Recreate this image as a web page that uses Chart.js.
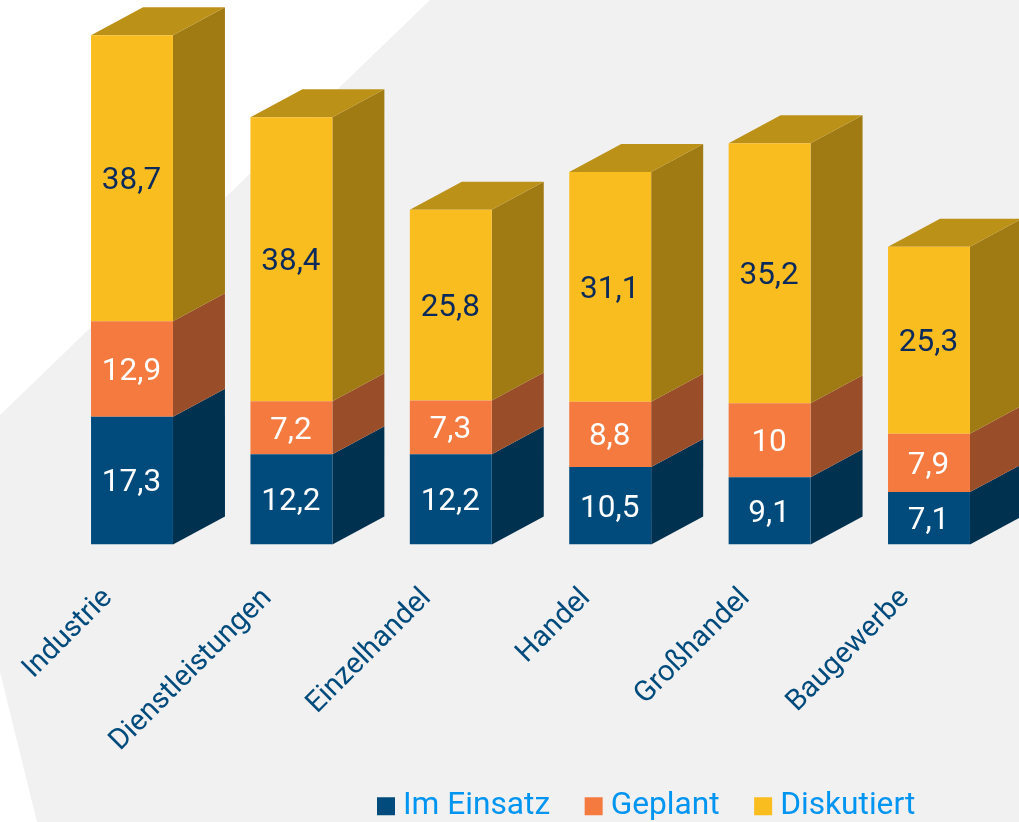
<!DOCTYPE html>
<html>
<head>
<meta charset="utf-8">
<script src="https://cdn.jsdelivr.net/npm/chart.js@4"></script>
<style>
  html, body { margin: 0; padding: 0; background: #fff; }
  #wrap { width: 1019px; height: 822px; position: relative; overflow: hidden; }
</style>
</head>
<body>
<div id="wrap"><canvas id="myChart" width="1019" height="822"></canvas></div>
<script>
var categories = ['Industrie', 'Dienstleistungen', 'Einzelhandel', 'Handel', 'Großhandel', 'Baugewerbe'];
var seriesNames = ['Im Einsatz', 'Geplant', 'Diskutiert'];
var imEinsatz = [17.3, 12.2, 12.2, 10.5, 9.1, 7.1];
var geplant = [12.9, 7.2, 7.3, 8.8, 10, 7.9];
var diskutiert = [38.7, 38.4, 25.8, 31.1, 35.2, 25.3];

var frontColors = ['#004b7c', '#f57a3f', '#fabd20'];
var sideColors = ['#00314f', '#994d28', '#a07a12'];
var labelColors = ['#ffffff', '#ffffff', '#0b2a5c'];
var topColor = '#bc9118';
var depthX = 52, depthY = 28;

var backgroundShape = {
    id: 'backgroundShape',
    beforeDraw: function(chart) {
        var c = chart.ctx;
        c.save();
        c.fillStyle = '#f1f1f1';
        c.beginPath();
        c.moveTo(430, 0);
        c.lineTo(1019, 0);
        c.lineTo(1019, 822);
        c.lineTo(37, 822);
        c.lineTo(0, 672);
        c.lineTo(0, 415);
        c.closePath();
        c.fill();
        c.restore();
    }
};

function face(c, color, pts) {
    c.fillStyle = color;
    c.beginPath();
    c.moveTo(pts[0], pts[1]);
    for (var i = 2; i < pts.length; i += 2) c.lineTo(pts[i], pts[i + 1]);
    c.closePath();
    c.fill();
}

// side and top faces of the blocks, taken from the bar elements
var blockFaces = {
    id: 'blockFaces',
    beforeDatasetsDraw: function(chart) {
        var c = chart.ctx;
        c.save();
        chart.data.datasets.forEach(function(ds, d) {
            chart.getDatasetMeta(d).data.forEach(function(bar) {
                var r = bar.x + bar.width / 2, l = bar.x - bar.width / 2;
                face(c, sideColors[d], [r, bar.y, r + depthX, bar.y - depthY, r + depthX, bar.base - depthY, r, bar.base]);
                if (d === chart.data.datasets.length - 1) {
                    face(c, topColor, [l, bar.y, l + depthX, bar.y - depthY, r + depthX, bar.y - depthY, r, bar.y]);
                }
            });
        });
        c.restore();
    }
};

var valueLabels = {
    id: 'valueLabels',
    afterDatasetsDraw: function(chart) {
        var c = chart.ctx;
        c.save();
        c.font = '31.5px Roboto';
        c.textAlign = 'center';
        c.textBaseline = 'middle';
        chart.data.datasets.forEach(function(ds, d) {
            c.fillStyle = labelColors[d];
            chart.getDatasetMeta(d).data.forEach(function(bar, i) {
                c.fillText(String(ds.data[i]).replace('.', ','), bar.x - 0.5, (bar.y + bar.base) / 2 + 3);
            });
        });
        c.restore();
    }
};

// the legend sits off-centre in the reference, and the long tick labels
// run past the bottom of the x scale box, so its clip has to reach further
var legendPlace = {
    id: 'legendPlace',
    afterLayout: function(chart) {
        var lg = chart.legend;
        var w = lg.right - lg.left, h = lg.bottom - lg.top;
        lg.left = 342.5;
        lg.right = lg.left + w;
        lg.top = 748;
        lg.bottom = lg.top + h;
        chart.scales.x.bottom = 822;
    }
};

new Chart(document.getElementById('myChart'), {
    type: 'bar',
    data: {
        labels: categories,
        datasets: [
            { label: seriesNames[0], data: imEinsatz, backgroundColor: frontColors[0] },
            { label: seriesNames[1], data: geplant, backgroundColor: frontColors[1] },
            { label: seriesNames[2], data: diskutiert, backgroundColor: frontColors[2] }
        ]
    },
    options: {
        responsive: false,
        animation: false,
        layout: { padding: { left: 52.3, right: 10.3, top: 0, bottom: 0 } },
        datasets: { bar: { categoryPercentage: 1, barPercentage: 0.514 } },
        scales: {
            x: {
                stacked: true,
                grid: { display: false },
                border: { display: false },
                afterFit: function(scale) {
                    scale.height = 822 - 544.5 - scale.chart.legend.height;
                    scale.paddingLeft = 0;
                    scale.paddingRight = 0;
                },
                ticks: {
                    autoSkip: false,
                    minRotation: 45,
                    maxRotation: 45,
                    color: '#004b7c',
                    padding: 29,
                    labelOffset: -24,
                    font: { family: 'Roboto', size: 29 }
                }
            },
            y: { stacked: true, display: false, min: 0, max: 73.68 }
        },
        plugins: {
            tooltip: { enabled: false },
            legend: {
                position: 'bottom',
                align: 'start',
                labels: {
                    usePointStyle: true,
                    pointStyle: 'rect',
                    boxWidth: 2.3,
                    boxHeight: 18,
                    padding: 42.35,
                    color: '#0095f0',
                    font: { family: 'Roboto', size: 31.7 }
                }
            }
        }
    },
    plugins: [backgroundShape, blockFaces, valueLabels, legendPlace]
});
</script>
</body>
</html>
